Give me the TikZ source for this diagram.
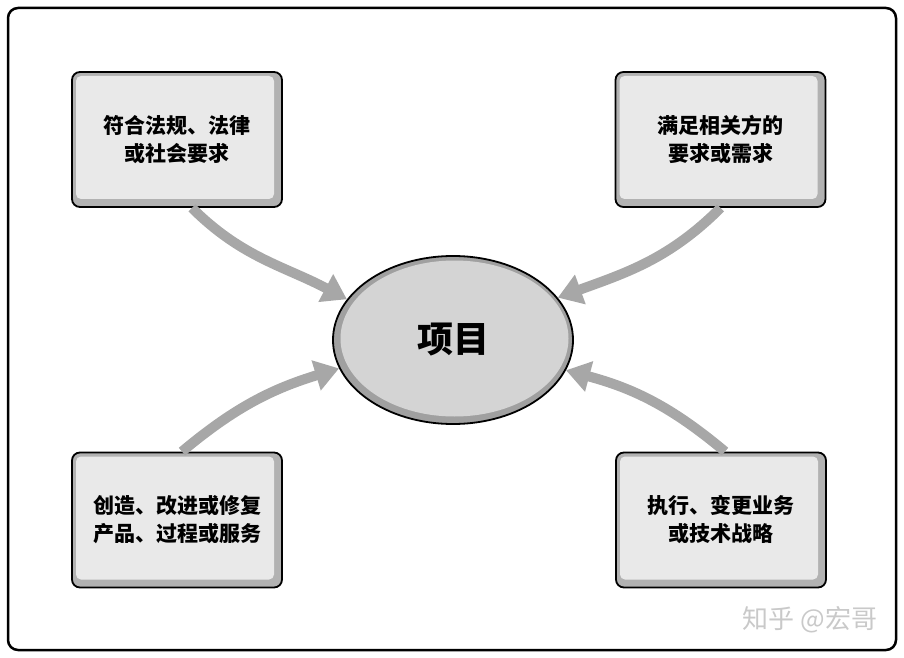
\documentclass[tikz,border=0pt]{standalone}
\usepackage{fontspec}
\setmainfont{Noto Sans CJK SC}
\usetikzlibrary{arrows.meta,shapes.geometric}
\definecolor{bevelgray}{HTML}{B2B2B2}
\definecolor{boxfill}{HTML}{E9E9E9}
\definecolor{ringgray}{HTML}{A0A0A0}
\definecolor{ellfill}{HTML}{D4D4D4}
\definecolor{flowgray}{HTML}{A7A7A7}
\definecolor{markgray}{HTML}{C9C9C9}
\tikzset{
  goalbox/.style={draw=black,line width=1.8pt,fill=bevelgray,rounded corners=8pt,
    minimum width=210pt,minimum height=135pt,align=center,
    font=\fontsize{21}{28}\selectfont\bfseries,
    path picture={\fill[boxfill,rounded corners=5pt]
      ([shift={(4pt,8pt)}]path picture bounding box.south west) rectangle
      ([shift={(-8pt,-4pt)}]path picture bounding box.north east);}},
  projell/.style={ellipse,draw=black,line width=1.8pt,fill=ringgray,inner sep=0pt,
    minimum width=240pt,minimum height=168pt,
    font=\fontsize{36}{40}\selectfont\bfseries,
    path picture={\fill[ellfill] ([shift={(1.5pt,1.5pt)}]path picture bounding box.center)
      ellipse (114pt and 78pt);}},
  flow/.style={draw=flowgray,line width=10pt,-{Triangle[width=30pt,length=24pt]}}
}
\begin{document}
\begin{tikzpicture}[x=1pt,y=1pt]
	\useasboundingbox (0,0) rectangle (904,657);
	\draw[line width=2.5pt,rounded corners=10pt] (8,7) rectangle (896,649);
	\node[projell] (prj) at (453,317) {项目};
	\foreach \n/\x/\y/\t in {tl/177/517.5/{符合法规、法律\\或社会要求},
		tr/720.5/517.5/{满足相关方的\\要求或需求},
		bl/177/137/{创造、改进或修复\\产品、过程或服务},
		br/721/137/{执行、变更业务\\或技术战略}}{
		\node[goalbox] (\n) at (\x,\y) {\t};
	}
	\foreach \n/\dx/\side/\o/\i/\ang in {tl/15/south/-45/152/159, tr/0/south/-135/20/22,
		bl/5/north/40/-163/194, br/4/north/140/-15/345}{
		\draw[flow] ([xshift=\dx pt]\n.\side) to[out=\o,in=\i] (prj.\ang);
	}
	\node[text=markgray,font=\fontsize{26}{28}\selectfont] (mark) at (810,37) {知乎 @宏哥};
\end{tikzpicture}
\end{document}
